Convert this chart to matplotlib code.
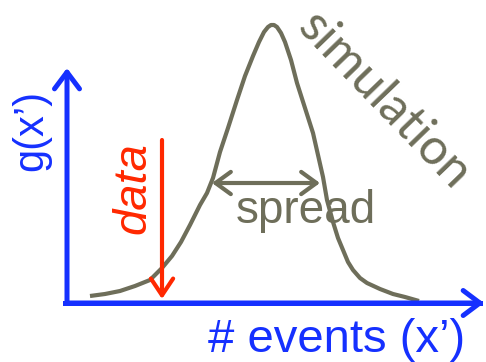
import matplotlib
matplotlib.use('Agg')
import matplotlib.pyplot as plt

plt.rcParams['font.family'] = ['Liberation Sans', 'DejaVu Sans']

BLUE = '#1530ff'
RED = '#ff2800'
GREY = '#6e6e5a'

# simulated distribution (pixel units, y downwards)
curve_x = [90, 105, 120, 135, 150, 162, 172, 181, 190, 200, 207, 213, 220, 228, 237, 245,
           253, 259, 264, 268, 271, 274, 277, 281, 285, 291, 297, 305, 313, 318, 323, 327,
           333, 338, 343, 348, 353, 360, 367, 380, 393, 405, 419]
curve_y = [296, 294, 291, 286, 280, 268, 256, 242, 225, 205, 193, 178, 152, 128, 100, 76,
           56, 42, 32, 27, 25, 25, 27, 33, 42, 60, 83, 108, 133, 155, 177, 200,
           222, 238, 250, 262, 270, 278, 283, 289, 294, 297, 301]

origin = (67, 303)
x_axis_end = (484, 303)
y_axis_end = (67, 68)
data_x = 162
data_top, data_bottom = 140, 299
spread_left, spread_right, spread_y = 212, 320, 183


def arrow(ax, start, end, color, lw, style):
    ax.annotate('', xy=end, xytext=start,
                arrowprops=dict(arrowstyle=style, color=color, lw=lw,
                                shrinkA=0, shrinkB=0, mutation_scale=20,
                                capstyle='round'))


fig = plt.figure(figsize=(4.86, 3.62), dpi=100)
ax = fig.add_axes([0, 0, 1, 1])
ax.set_xlim(0, 486)
ax.set_ylim(362, 0)
ax.axis('off')

ax.plot(curve_x, curve_y, color=GREY, lw=3, solid_capstyle='butt',
        solid_joinstyle='round', zorder=2)

arrow(ax, origin, x_axis_end, BLUE, 3.6, '->,head_length=0.6,head_width=0.45')
arrow(ax, origin, y_axis_end, BLUE, 3.6, '->,head_length=0.6,head_width=0.45')
ax.plot([origin[0] - 2, x_axis_end[0] - 4], [origin[1], origin[1]], color=BLUE, lw=3.6, zorder=1)

arrow(ax, (data_x, data_top), (data_x, data_bottom), RED, 3, '->,head_length=0.6,head_width=0.4')
arrow(ax, (spread_left, spread_y), (spread_right, spread_y), GREY, 3,
      '<->,head_length=0.55,head_width=0.4')

ax.text(31, 130, 'g(x’)', color=BLUE, fontsize=30, rotation=90, ha='center', va='center')
ax.text(337, 340, '# events (x’)', color=BLUE, fontsize=34, ha='center', va='center')
ax.text(133, 188, 'data', color=RED, fontsize=34, style='italic', rotation=90,
        ha='center', va='center')
ax.text(306, 211, 'spread', color=GREY, fontsize=33, ha='center', va='center')
ax.text(384, 101, 'simulation', color=GREY, fontsize=36, rotation=-46,
        family=['Lato', 'DejaVu Sans'],
        rotation_mode='anchor', ha='center', va='center')

fig.savefig('out.png', dpi=100)
